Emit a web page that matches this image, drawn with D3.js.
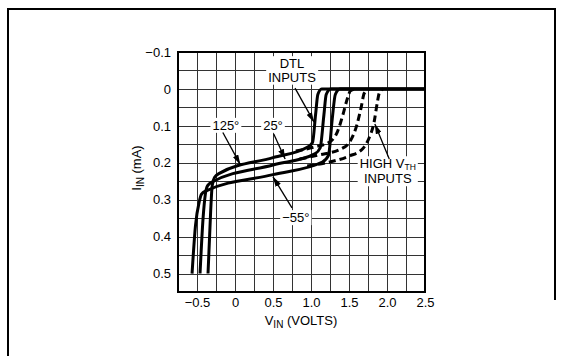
<!DOCTYPE html>
<html>
<head>
<meta charset="utf-8">
<script src="https://cdn.jsdelivr.net/npm/d3@7"></script>
<style>
  html, body { margin: 0; padding: 0; background: #fff; }
  svg { display: block; font-family: "Liberation Sans", Arial, Helvetica, sans-serif; }
</style>
</head>
<body>
<svg id="chart" width="562" height="356"></svg>
<script>
// Input current vs input voltage at three temperatures (DTL and high V_TH inputs).

const xTicks = [-0.5, 0, 0.5, 1.0, 1.5, 2.0, 2.5];
const xTickLabels = ["−0.5", "0", "0.5", "1.0", "1.5", "2.0", "2.5"];
const yTicks = [-0.1, 0, 0.1, 0.2, 0.3, 0.4, 0.5];
const yTickLabels = ["−0.1", "0", "0.1", "0.2", "0.3", "0.4", "0.5"];

// points are [V_IN (volts), I_IN (mA)]
const curve125 = [
  [-0.355, 0.5], [-0.32, 0.33], [-0.3, 0.262], [-0.27, 0.24], [-0.2, 0.228],
  [0.5, 0.186], [0.95, 0.158], [1.02, 0.145], [1.06, 0.07], [1.09, 0.015],
  [1.14, 0], [2.5, 0]
];
const curve25 = [
  [-0.46, 0.5], [-0.42, 0.35], [-0.39, 0.285], [-0.36, 0.262], [-0.3, 0.252],
  [0.5, 0.206], [1.05, 0.176], [1.12, 0.16], [1.17, 0.07], [1.2, 0.015],
  [1.26, 0], [2.5, 0]
];
const curveM55 = [
  [-0.565, 0.5], [-0.52, 0.37], [-0.47, 0.305], [-0.44, 0.285], [-0.38, 0.276],
  [0.5, 0.232], [1.15, 0.198], [1.23, 0.18], [1.28, 0.08], [1.32, 0.015],
  [1.38, 0], [2.5, 0]
];

// high V_TH inputs (dashed), leaving the solid lines a little before the DTL rise
const highVth125 = [
  [0.8, 0.168], [1.05, 0.157], [1.25, 0.143], [1.35, 0.115], [1.42, 0.07],
  [1.48, 0.025], [1.52, 0.005], [1.6, 0]
];
const highVth25 = [
  [0.85, 0.19], [1.1, 0.179], [1.4, 0.162], [1.52, 0.14], [1.6, 0.1],
  [1.66, 0.05], [1.7, 0.012], [1.77, 0]
];
const highVthM55 = [
  [0.95, 0.209], [1.2, 0.2], [1.5, 0.182], [1.68, 0.162], [1.76, 0.135],
  [1.83, 0.09], [1.87, 0.04], [1.9, 0.01], [1.95, 0]
];

const solidCurves = [curve125, curve25, curveM55];
const dashedCurves = [highVth125, highVth25, highVthM55];

// callouts: text lines, text anchor point, row gap, arrow start and arrow tip (data units)
const callouts = [
  { lines: ["125°"], at: [-0.12, 0.1], gap: 0, from: [-0.16, 0.118], to: [0.07, 0.205] },
  { lines: ["25°"], at: [0.5, 0.1], gap: 0, from: [0.51, 0.122], to: [0.66, 0.19] },
  { lines: ["−55°"], at: [0.8, 0.35], gap: 0, from: [0.75, 0.322], to: [0.5, 0.238] },
  { lines: ["DTL", "INPUTS"], at: [0.75, -0.067], gap: 13.5, from: [0.79, -0.002], to: [1.04, 0.09] },
  { lines: ["HIGH V|TH", "INPUTS"], at: [2.01, 0.204], gap: 15, from: [2.03, 0.19], to: [1.84, 0.095] }
];

function draw() {
  const svg = d3.select("#chart");
  const x = d3.scaleLinear().domain([-0.75, 2.5]).range([178, 425]);
  const y = d3.scaleLinear().domain([-0.1, 0.55]).range([52, 292]);
  const fs = 13;

  // outer border of the figure
  svg.append("path")
    .attr("d", "M8,356V9H555V300")
    .attr("fill", "none")
    .attr("stroke", "#000")
    .attr("stroke-width", 2);

  // grid: 0.25 V and 0.05 mA
  const gx = d3.range(0, 14).map((i) => -0.75 + i * 0.25);
  const gy = d3.range(0, 14).map((i) => -0.1 + i * 0.05);
  const grid = svg.append("g").attr("stroke", "#333").attr("stroke-width", 1);
  grid.selectAll("line.v").data(gx).enter().append("line")
    .attr("x1", (d) => Math.round(x(d)) + 0.5).attr("x2", (d) => Math.round(x(d)) + 0.5)
    .attr("y1", y(-0.1)).attr("y2", y(0.55));
  grid.selectAll("line.h").data(gy).enter().append("line")
    .attr("y1", (d) => Math.round(y(d)) + 0.5).attr("y2", (d) => Math.round(y(d)) + 0.5)
    .attr("x1", x(-0.75)).attr("x2", x(2.5));

  // tick labels
  const xAxis = svg.append("g")
    .attr("transform", `translate(0,${y(0.55)})`)
    .call(d3.axisBottom(x).tickValues(xTicks).tickSize(0).tickPadding(6)
      .tickFormat((d, i) => xTickLabels[i]));
  const yAxis = svg.append("g")
    .attr("transform", `translate(${x(-0.75)},0)`)
    .call(d3.axisLeft(y).tickValues(yTicks).tickSize(0).tickPadding(7)
      .tickFormat((d, i) => yTickLabels[i]));
  [xAxis, yAxis].forEach((g) => {
    g.select(".domain").remove();
    g.selectAll("text")
      .attr("font-family", "'Liberation Sans', Arial, sans-serif")
      .attr("font-size", fs)
      .attr("fill", "#000");
  });

  // axis titles
  const xt = svg.append("text")
    .attr("x", 301).attr("y", 325)
    .attr("text-anchor", "middle")
    .attr("font-size", fs);
  xt.append("tspan").text("V");
  xt.append("tspan").attr("font-size", 10).attr("dy", 3).text("IN");
  xt.append("tspan").attr("dy", -3).text(" (VOLTS)");

  const yt = svg.append("text")
    .attr("transform", "translate(141,168) rotate(-90)")
    .attr("text-anchor", "middle")
    .attr("font-size", fs);
  yt.append("tspan").text("I");
  yt.append("tspan").attr("font-size", 10).attr("dy", 3).text("IN");
  yt.append("tspan").attr("dy", -3).text(" (mA)");

  // curves
  const line = d3.line()
    .x((d) => x(d[0]))
    .y((d) => y(d[1]))
    .curve(d3.curveMonotoneX);

  svg.append("g").selectAll("path")
    .data(dashedCurves).enter().append("path")
    .attr("d", line)
    .attr("fill", "none")
    .attr("stroke", "#000")
    .attr("stroke-width", 3)
    .attr("stroke-dasharray", "7,4");

  svg.append("g").selectAll("path")
    .data(solidCurves).enter().append("path")
    .attr("d", line)
    .attr("fill", "none")
    .attr("stroke", "#000")
    .attr("stroke-width", 3)
    .attr("stroke-linejoin", "round");

  // plot frame
  svg.append("rect")
    .attr("x", x(-0.75)).attr("y", y(-0.1))
    .attr("width", x(2.5) - x(-0.75)).attr("height", y(0.55) - y(-0.1))
    .attr("fill", "none")
    .attr("stroke", "#000")
    .attr("stroke-width", 2);

  // arrowheads
  svg.append("defs").append("marker")
    .attr("id", "head")
    .attr("viewBox", "0 -3 10 6")
    .attr("refX", 10).attr("refY", 0)
    .attr("markerUnits", "userSpaceOnUse")
    .attr("markerWidth", 10).attr("markerHeight", 6)
    .attr("orient", "auto")
    .append("path")
    .attr("d", "M0,-3L10,0L0,3Z")
    .attr("fill", "#000");

  const notes = svg.append("g");
  callouts.forEach((c) => {
    const g = notes.append("g");
    const bg = g.append("rect").attr("fill", "#fff");
    // one text element per callout, one tspan row per line
    const t = g.append("text")
      .attr("text-anchor", "middle")
      .attr("font-size", fs);
    c.lines.forEach((ln, i) => {
      const parts = ln.split("|");
      t.append("tspan")
        .attr("x", x(c.at[0]))
        .attr("y", y(c.at[1]) + 4 + i * c.gap)
        .text(parts[0]);
      if (parts[1]) {
        t.append("tspan").attr("font-size", 8.5).attr("dy", 1.5).text(parts[1]);
      }
    });
    const b = t.node().getBBox();
    bg.attr("x", b.x - 2).attr("y", b.y).attr("width", b.width + 4).attr("height", b.height);
    g.append("line")
      .attr("x1", x(c.from[0])).attr("y1", y(c.from[1]))
      .attr("x2", x(c.to[0])).attr("y2", y(c.to[1]))
      .attr("stroke", "#000")
      .attr("stroke-width", 1.3)
      .attr("marker-end", "url(#head)");
  });
}

draw();
</script>
</body>
</html>
